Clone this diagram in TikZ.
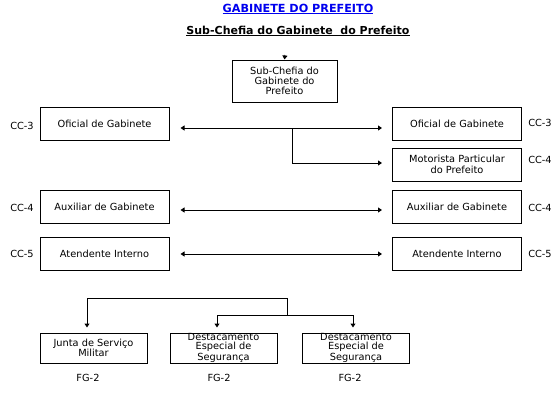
\documentclass[tikz,border=0pt]{standalone}
\usepackage{fontspec}
\setmainfont{DejaVu Sans}
\usetikzlibrary{arrows.meta}
\definecolor{titleblue}{RGB}{0,0,238}
\tikzset{>/.tip={Triangle[width=5pt,length=4pt]},
  box/.style={draw, line width=1pt, align=center, inner sep=0pt, font=\fontsize{9.8}{10}\selectfont},
  wbox/.style={box, minimum width=129pt, minimum height=33pt},
  sbox/.style={box, minimum width=107pt, minimum height=30pt, font=\fontsize{9.8}{9}\selectfont},
  lbl/.style={inner sep=0pt, font=\fontsize{9.8}{10}\selectfont},
  conn/.style={line width=1pt}}

\begin{document}
\begin{tikzpicture}[x=1pt,y=-1pt]
\useasboundingbox (0,0) rectangle (560,400);
\node (title) at (298,9) {\fontsize{11.2}{12}\selectfont\bfseries\color{titleblue}\underline{GABINETE DO PREFEITO}};
\node (sub) at (298,31) {\fontsize{11}{12}\selectfont\bfseries\underline{Sub-Chefia do Gabinete\ \ do Prefeito}};

\node[box, minimum width=105pt, minimum height=42pt] (chefe) at (284.5,81) {Sub-Chefia do\\Gabinete do\\Prefeito};
\coordinate (topin) at (285,55);
\draw[conn,->] (topin) -- (chefe.north);

\node[wbox] (ofL) at (104.5,123.5) {Oficial de Gabinete};
\node[wbox] (ofR) at (457,123.5) {Oficial de Gabinete};
\node[wbox, font=\fontsize{9.8}{11}\selectfont] (motR) at (457,164.5) {Motorista Particular\\do Prefeito};
\node[wbox] (auxL) at (104.5,206.5) {Auxiliar de Gabinete};
\node[wbox] (auxR) at (457,206.5) {Auxiliar de Gabinete};
\node[wbox] (atdL) at (104.5,253.5) {Atendente Interno};
\node[wbox] (atdR) at (457,253.5) {Atendente Interno};

\foreach \l/\r/\dy in {ofL/ofR/4.5, auxL/auxR/3.5, atdL/atdR/0.5}
{
  \draw[conn,<->] ([xshift=11pt,yshift=-\dy pt]\l.east) -- ([xshift=-10pt,yshift=-\dy pt]\r.west);
}
\coordinate (br) at (292,128);
\draw[conn,->] (br) |- ([xshift=-10pt,yshift=1.5pt]motR.west);

\node[lbl] (ccA) at (22,126) {CC-3};
\node[lbl] (ccB) at (22,208) {CC-4};
\node[lbl] (ccC) at (22,254) {CC-5};
\node[lbl] (ccD) at (540,123) {CC-3};
\node[lbl] (ccE) at (540,160) {CC-4};
\node[lbl] (ccF) at (540,208) {CC-4};
\node[lbl] (ccG) at (540,254) {CC-5};

\node[sbox, font=\fontsize{9.8}{10}\selectfont] (junta) at (93.5,348) {Junta de Serviço\\Militar};
\node[sbox] (destA) at (223.5,348) {Destacamento\\Especial de\\Segurança};
\node[sbox] (destB) at (356,348) {Destacamento\\Especial de\\Segurança};
\coordinate (bt) at (287,315);
\draw[conn,->,shorten >=5pt] (bt) -- (287,298) -| ([xshift=-6.5pt]junta.north);
\draw[conn,->,shorten >=5pt] (bt) -| ([xshift=-6.5pt]destA.north);
\draw[conn,->,shorten >=5pt] (bt) -| ([xshift=-3pt]destB.north);

\foreach \n/\x in {fgA/88, fgB/219, fgC/350}
{
  \node[lbl] (\n) at (\x,378) {FG-2};
}
\end{tikzpicture}
\end{document}
